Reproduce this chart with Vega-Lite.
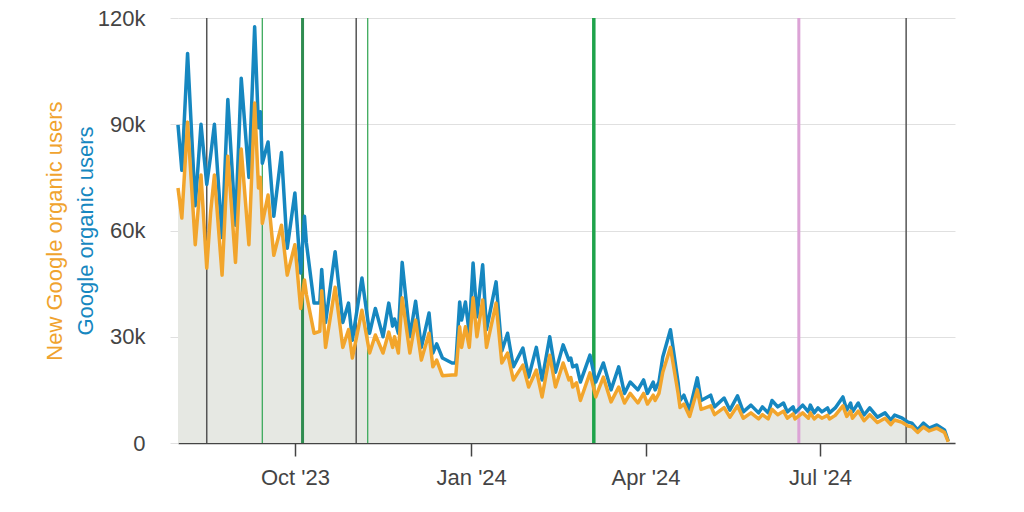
{
  "$schema": "https://vega.github.io/schema/vega-lite/v6.json",
  "width": 777,
  "height": 425,
  "autosize": "none",
  "padding": {"left": 178, "top": 18, "right": 69, "bottom": 69},
  "background": "white",
  "config": {
    "view": {"stroke": null},
    "font": "Liberation Sans",
    "axis": {"labelFont": "Liberation Sans", "titleFont": "Liberation Sans"}
  },
  "datasets": {
    "traffic": [
      {"date": "2023-08-01", "users": 89800, "new_users": 72000},
      {"date": "2023-08-03", "users": 77000, "new_users": 63500},
      {"date": "2023-08-06", "users": 110000, "new_users": 90600},
      {"date": "2023-08-10", "users": 67000, "new_users": 56000},
      {"date": "2023-08-13", "users": 90000, "new_users": 75700},
      {"date": "2023-08-16", "users": 73000, "new_users": 49400},
      {"date": "2023-08-18", "users": 81000, "new_users": 65000},
      {"date": "2023-08-20", "users": 90000, "new_users": 75700},
      {"date": "2023-08-24", "users": 58000, "new_users": 47400},
      {"date": "2023-08-27", "users": 97000, "new_users": 81000},
      {"date": "2023-08-31", "users": 61500, "new_users": 51000},
      {"date": "2023-09-03", "users": 103000, "new_users": 83000},
      {"date": "2023-09-07", "users": 75000, "new_users": 56000},
      {"date": "2023-09-10", "users": 117500, "new_users": 96000},
      {"date": "2023-09-12", "users": 89000, "new_users": 72000},
      {"date": "2023-09-13", "users": 93500, "new_users": 75000},
      {"date": "2023-09-14", "users": 79000, "new_users": 62000},
      {"date": "2023-09-17", "users": 85000, "new_users": 70000},
      {"date": "2023-09-20", "users": 64000, "new_users": 53000},
      {"date": "2023-09-24", "users": 82000, "new_users": 61500},
      {"date": "2023-09-27", "users": 55000, "new_users": 47400},
      {"date": "2023-10-01", "users": 70600, "new_users": 56000},
      {"date": "2023-10-04", "users": 48000, "new_users": 38000},
      {"date": "2023-10-06", "users": 64000, "new_users": 46000},
      {"date": "2023-10-07", "users": 56500, "new_users": 42000},
      {"date": "2023-10-11", "users": 39500, "new_users": 31000},
      {"date": "2023-10-14", "users": 39500, "new_users": 31500},
      {"date": "2023-10-15", "users": 49000, "new_users": 43000},
      {"date": "2023-10-17", "users": 34000, "new_users": 27000},
      {"date": "2023-10-22", "users": 54000, "new_users": 44000},
      {"date": "2023-10-26", "users": 34000, "new_users": 27000},
      {"date": "2023-10-29", "users": 39500, "new_users": 32000},
      {"date": "2023-10-31", "users": 29000, "new_users": 24000},
      {"date": "2023-11-05", "users": 46600, "new_users": 37500},
      {"date": "2023-11-09", "users": 31000, "new_users": 25400},
      {"date": "2023-11-12", "users": 38000, "new_users": 30500},
      {"date": "2023-11-16", "users": 30000, "new_users": 25400},
      {"date": "2023-11-19", "users": 39500, "new_users": 31300},
      {"date": "2023-11-21", "users": 33000, "new_users": 27000},
      {"date": "2023-11-22", "users": 35000, "new_users": 30000},
      {"date": "2023-11-24", "users": 31000, "new_users": 25400},
      {"date": "2023-11-26", "users": 51000, "new_users": 41000},
      {"date": "2023-11-30", "users": 30000, "new_users": 25400},
      {"date": "2023-12-03", "users": 40000, "new_users": 34700},
      {"date": "2023-12-06", "users": 27000, "new_users": 23400},
      {"date": "2023-12-10", "users": 36700, "new_users": 31000},
      {"date": "2023-12-12", "users": 25400, "new_users": 21500},
      {"date": "2023-12-14", "users": 28000, "new_users": 23400},
      {"date": "2023-12-17", "users": 24000, "new_users": 19000},
      {"date": "2023-12-22", "users": 22600, "new_users": 19200},
      {"date": "2023-12-24", "users": 22600, "new_users": 19200},
      {"date": "2023-12-26", "users": 39800, "new_users": 32800},
      {"date": "2023-12-27", "users": 34700, "new_users": 27000},
      {"date": "2023-12-29", "users": 39800, "new_users": 32800},
      {"date": "2023-12-31", "users": 31000, "new_users": 27000},
      {"date": "2024-01-02", "users": 50800, "new_users": 41000},
      {"date": "2024-01-04", "users": 35600, "new_users": 30000},
      {"date": "2024-01-07", "users": 50300, "new_users": 40400},
      {"date": "2024-01-09", "users": 32000, "new_users": 27000},
      {"date": "2024-01-14", "users": 45500, "new_users": 39500},
      {"date": "2024-01-17", "users": 26000, "new_users": 22600},
      {"date": "2024-01-20", "users": 31000, "new_users": 25400},
      {"date": "2024-01-23", "users": 21500, "new_users": 17800},
      {"date": "2024-01-28", "users": 26800, "new_users": 22000},
      {"date": "2024-01-31", "users": 18600, "new_users": 15800},
      {"date": "2024-02-04", "users": 27000, "new_users": 20600},
      {"date": "2024-02-07", "users": 17800, "new_users": 13000},
      {"date": "2024-02-11", "users": 30000, "new_users": 24800},
      {"date": "2024-02-14", "users": 20000, "new_users": 15800},
      {"date": "2024-02-18", "users": 27700, "new_users": 22600},
      {"date": "2024-02-21", "users": 23400, "new_users": 17800},
      {"date": "2024-02-22", "users": 24000, "new_users": 18500},
      {"date": "2024-02-23", "users": 21500, "new_users": 15800},
      {"date": "2024-02-25", "users": 22000, "new_users": 17000},
      {"date": "2024-02-27", "users": 17200, "new_users": 12000},
      {"date": "2024-03-03", "users": 24800, "new_users": 19800},
      {"date": "2024-03-06", "users": 17200, "new_users": 13000},
      {"date": "2024-03-10", "users": 22600, "new_users": 18600},
      {"date": "2024-03-14", "users": 15000, "new_users": 11600},
      {"date": "2024-03-18", "users": 21500, "new_users": 15800},
      {"date": "2024-03-21", "users": 14000, "new_users": 11300},
      {"date": "2024-03-24", "users": 17200, "new_users": 14000},
      {"date": "2024-03-28", "users": 15000, "new_users": 11300},
      {"date": "2024-03-31", "users": 17800, "new_users": 14000},
      {"date": "2024-04-02", "users": 14000, "new_users": 11000},
      {"date": "2024-04-05", "users": 17200, "new_users": 13500},
      {"date": "2024-04-06", "users": 15000, "new_users": 12000},
      {"date": "2024-04-08", "users": 17200, "new_users": 14000},
      {"date": "2024-04-10", "users": 24300, "new_users": 20000},
      {"date": "2024-04-14", "users": 32000, "new_users": 27000},
      {"date": "2024-04-18", "users": 17000, "new_users": 14000},
      {"date": "2024-04-19", "users": 12000, "new_users": 10000},
      {"date": "2024-04-21", "users": 13500, "new_users": 11000},
      {"date": "2024-04-24", "users": 9300, "new_users": 7500},
      {"date": "2024-04-28", "users": 18400, "new_users": 15000},
      {"date": "2024-04-30", "users": 12000, "new_users": 9500},
      {"date": "2024-05-05", "users": 13500, "new_users": 10500},
      {"date": "2024-05-07", "users": 10200, "new_users": 8000},
      {"date": "2024-05-12", "users": 12700, "new_users": 10000},
      {"date": "2024-05-15", "users": 9300, "new_users": 7300},
      {"date": "2024-05-19", "users": 13300, "new_users": 10500},
      {"date": "2024-05-22", "users": 8800, "new_users": 7000},
      {"date": "2024-05-26", "users": 10700, "new_users": 8500},
      {"date": "2024-05-30", "users": 8500, "new_users": 6800},
      {"date": "2024-06-01", "users": 10200, "new_users": 8000},
      {"date": "2024-06-04", "users": 8500, "new_users": 6800},
      {"date": "2024-06-06", "users": 12000, "new_users": 9500},
      {"date": "2024-06-09", "users": 10200, "new_users": 8000},
      {"date": "2024-06-12", "users": 11300, "new_users": 9000},
      {"date": "2024-06-14", "users": 8800, "new_users": 7000},
      {"date": "2024-06-17", "users": 10200, "new_users": 8200},
      {"date": "2024-06-18", "users": 8500, "new_users": 6800},
      {"date": "2024-06-22", "users": 10700, "new_users": 8500},
      {"date": "2024-06-25", "users": 8800, "new_users": 7000},
      {"date": "2024-06-26", "users": 10700, "new_users": 8500},
      {"date": "2024-06-28", "users": 8500, "new_users": 6800},
      {"date": "2024-06-30", "users": 9900, "new_users": 7800},
      {"date": "2024-07-02", "users": 8800, "new_users": 7000},
      {"date": "2024-07-05", "users": 9900, "new_users": 7800},
      {"date": "2024-07-06", "users": 8500, "new_users": 6800},
      {"date": "2024-07-09", "users": 9900, "new_users": 7800},
      {"date": "2024-07-13", "users": 13000, "new_users": 10500},
      {"date": "2024-07-15", "users": 9300, "new_users": 7500},
      {"date": "2024-07-17", "users": 11300, "new_users": 9000},
      {"date": "2024-07-18", "users": 8800, "new_users": 7000},
      {"date": "2024-07-21", "users": 11300, "new_users": 9000},
      {"date": "2024-07-24", "users": 7900, "new_users": 6300},
      {"date": "2024-07-27", "users": 9900, "new_users": 8000},
      {"date": "2024-07-31", "users": 7300, "new_users": 5800},
      {"date": "2024-08-04", "users": 8500, "new_users": 7000},
      {"date": "2024-08-07", "users": 6500, "new_users": 5200},
      {"date": "2024-08-09", "users": 7900, "new_users": 6500},
      {"date": "2024-08-13", "users": 7000, "new_users": 5800},
      {"date": "2024-08-16", "users": 5900, "new_users": 4800},
      {"date": "2024-08-18", "users": 5600, "new_users": 4600},
      {"date": "2024-08-21", "users": 3700, "new_users": 3000},
      {"date": "2024-08-24", "users": 5600, "new_users": 4500},
      {"date": "2024-08-27", "users": 4200, "new_users": 3400},
      {"date": "2024-08-31", "users": 5100, "new_users": 4200},
      {"date": "2024-09-04", "users": 3700, "new_users": 3000},
      {"date": "2024-09-06", "users": 500, "new_users": 300}
    ],
    "updates": [
      {"date": "2023-08-16", "kind": "core update"},
      {"date": "2023-09-14", "kind": "helpful content update"},
      {"date": "2023-10-05", "kind": "core and spam update"},
      {"date": "2023-11-02", "kind": "core update"},
      {"date": "2023-11-08", "kind": "helpful content update"},
      {"date": "2024-03-05", "kind": "march core update"},
      {"date": "2024-06-20", "kind": "spam update"},
      {"date": "2024-08-15", "kind": "core update"}
    ]
  },
  "layer": [
    {
      "data": {"name": "traffic"},
      "mark": {"type": "area", "color": "#e6e8e3", "opacity": 1},
      "encoding": {
        "x": {
          "field": "date",
          "type": "temporal",
          "scale": {
            "type": "utc",
            "domain": [
              {"year": 2023, "month": 8, "date": 1, "utc": true},
              {"year": 2024, "month": 9, "date": 9, "hours": 12, "utc": true}
            ]
          },
          "axis": {
            "title": null,
            "format": "%b '%y",
            "tickCount": {"interval": "month", "step": 3},
            "grid": false,
            "domainColor": "#444444",
            "domainWidth": 1.5,
            "tickColor": "#444444",
            "tickWidth": 1.5,
            "tickSize": 13,
            "labelPadding": 11,
            "labelFontSize": 22,
            "labelColor": "#444444"
          }
        },
        "y": {
          "field": "new_users",
          "type": "quantitative",
          "scale": {"domain": [0, 120000]},
          "axis": {
            "orient": "left",
            "labels": false,
            "ticks": false,
            "domain": false,
            "grid": false,
            "title": "New Google organic users",
            "titleColor": "#f0a32e",
            "titleFontSize": 22,
            "titleFontWeight": "normal",
            "titlePadding": 112
          }
        }
      }
    },
    {
      "data": {"name": "updates"},
      "transform": [{"filter": "datum.kind == 'core update'"}],
      "mark": {"type": "rule", "color": "#555555", "strokeWidth": 1.5},
      "encoding": {"x": {"field": "date", "type": "temporal"}}
    },
    {
      "data": {"name": "updates"},
      "transform": [{"filter": "datum.kind == 'helpful content update'"}],
      "mark": {"type": "rule", "color": "#3daa5c", "strokeWidth": 1.3},
      "encoding": {"x": {"field": "date", "type": "temporal"}}
    },
    {
      "data": {"name": "updates"},
      "transform": [{"filter": "datum.kind == 'core and spam update'"}],
      "mark": {"type": "rule", "color": "#2f8c50", "strokeWidth": 3},
      "encoding": {"x": {"field": "date", "type": "temporal"}}
    },
    {
      "data": {"name": "updates"},
      "transform": [{"filter": "datum.kind == 'march core update'"}],
      "mark": {"type": "rule", "color": "#1ea34b", "strokeWidth": 3.5},
      "encoding": {"x": {"field": "date", "type": "temporal"}}
    },
    {
      "data": {"name": "updates"},
      "transform": [{"filter": "datum.kind == 'spam update'"}],
      "mark": {"type": "rule", "color": "#dca3d6", "strokeWidth": 3},
      "encoding": {"x": {"field": "date", "type": "temporal"}}
    },
    {
      "data": {"name": "traffic"},
      "mark": {"type": "line", "color": "#1687c0", "strokeWidth": 3.5, "strokeJoin": "round"},
      "encoding": {
        "x": {"field": "date", "type": "temporal"},
        "y": {
          "field": "users",
          "type": "quantitative",
          "axis": {
            "orient": "left",
            "values": [0, 30000, 60000, 90000, 120000],
            "labelExpr": "datum.value == 0 ? '0' : format(datum.value / 1000, 'd') + 'k'",
            "grid": true,
            "gridColor": "#e0e0e0",
            "domain": false,
            "tickColor": "#e0e0e0",
            "tickSize": 8,
            "labelPadding": 25,
            "labelFontSize": 22,
            "labelColor": "#444444",
            "title": "Google organic users",
            "titleColor": "#1687c0",
            "titleFontSize": 22,
            "titleFontWeight": "normal",
            "titlePadding": 0
          }
        }
      }
    },
    {
      "data": {"name": "traffic"},
      "mark": {"type": "line", "color": "#f2a52c", "strokeWidth": 3.5, "strokeJoin": "round"},
      "encoding": {
        "x": {"field": "date", "type": "temporal"},
        "y": {"field": "new_users", "type": "quantitative", "axis": null}
      }
    }
  ],
  "resolve": {"axis": {"y": "independent"}}
}
